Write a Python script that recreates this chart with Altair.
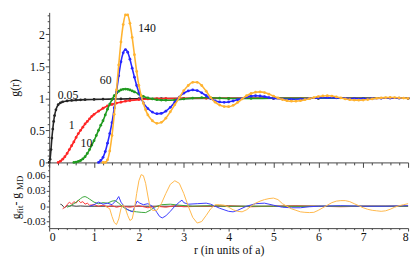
import altair as alt
import pandas as pd

# ---------------- data ----------------
series = ["0.05", "1", "10", "60", "140"]
colors = ["#262626", "#ff2626", "#1f9a1f", "#2626ff", "#ffb330"]
res_colors = ["#333333", "#ff3a3a", "#3aa63a", "#3a3aff", "#ffb84a"]


def grid(a, n, step):
    return [round(a + step * i, 3) for i in range(n)]


# g(r) curves
r_005 = [0.0, 0.02, 0.04, 0.06, 0.08, 0.10, 0.12, 0.15, 0.2, 0.25, 0.3, 0.4, 0.5, 0.6, 0.7,
         0.8, 1.0, 1.2, 1.4, 1.6, 1.8, 2.0, 2.5, 3.0, 4.0, 5.0, 6.0, 7.0, 8.0]
g_005 = [0.0, 0.05, 0.2, 0.38, 0.52, 0.64, 0.73, 0.82, 0.9, 0.93, 0.945, 0.96, 0.967, 0.972, 0.976,
         0.979, 0.983, 0.986, 0.988, 0.99, 0.992, 0.994, 0.996, 0.998, 1.0, 1.0, 1.0, 1.0, 1.0]

r_1 = grid(0.2, 17, 0.05) + [1.1, 1.2, 1.3, 1.4, 1.5, 1.6, 1.7, 1.8, 2.0, 2.2, 2.4, 2.6, 3.0,
                              3.5, 4.0, 5.0, 6.0, 7.0, 8.0]
g_1 = [0.0, 0.02, 0.05, 0.09, 0.14, 0.2, 0.26, 0.32, 0.39, 0.45, 0.5, 0.55, 0.6, 0.64, 0.68,
       0.72, 0.75, 0.8, 0.845, 0.88, 0.905, 0.925, 0.94, 0.955, 0.965, 0.98, 0.99, 0.995, 0.998,
       1.0, 1.0, 1.0, 1.0, 1.0, 1.0, 1.0]

r_10 = grid(0.55, 28, 0.05) + [2.0, 2.1, 2.2, 2.3, 2.4, 2.5, 2.6, 2.8, 3.0, 3.2, 3.4, 3.6,
                                3.8, 4.0, 4.5, 5.0, 6.0, 7.0, 8.0]
g_10 = [0.0, 0.005, 0.015, 0.03, 0.055, 0.09, 0.14, 0.2, 0.27, 0.34, 0.42, 0.5, 0.58, 0.65,
        0.74, 0.83, 0.91, 0.98, 1.04, 1.08, 1.11, 1.13, 1.14, 1.145, 1.14, 1.13, 1.115, 1.1,
        1.065, 1.03, 1.005, 0.99, 0.978, 0.972, 0.97, 0.975, 0.99, 1.003, 1.01, 1.008, 1.002,
        0.998, 0.998, 1.0, 1.0, 1.0, 1.0]

r_60 = grid(1.1, 21, 0.05) + grid(2.2, 29, 0.1) + grid(5.2, 15, 0.2)
g_60 = [0.0, 0.03, 0.08, 0.17, 0.3, 0.45, 0.62, 0.85, 1.1, 1.35, 1.57, 1.71, 1.76, 1.72, 1.61,
        1.47, 1.33, 1.2, 1.09, 1.0, 0.93,
        0.84, 0.785, 0.76, 0.765, 0.8, 0.86, 0.94, 1.02, 1.08, 1.115, 1.13, 1.12, 1.085, 1.04,
        0.995, 0.96, 0.943, 0.938, 0.943, 0.958, 0.978, 1.0, 1.02, 1.034, 1.04, 1.036, 1.026,
        1.012, 1.0,
        0.988, 0.984, 0.988, 0.997, 1.006, 1.01, 1.007, 1.0, 0.996, 0.995, 0.997, 1.0, 1.002,
        1.002, 1.0]

r_140 = grid(1.2, 21, 0.05) + grid(2.3, 58, 0.1)
g_140 = [0.0, 0.0, 0.04, 0.18, 0.42, 0.75, 1.13, 1.52, 1.88, 2.15, 2.3, 2.3, 2.17, 1.95, 1.68,
         1.42, 1.2, 1.04, 0.92, 0.82, 0.74,
         0.65, 0.61, 0.625, 0.69, 0.79, 0.9, 1.01, 1.12, 1.2, 1.25, 1.25, 1.2, 1.11, 1.01, 0.94,
         0.895, 0.872, 0.87, 0.89, 0.935, 0.99, 1.04, 1.075, 1.095, 1.1, 1.09, 1.065, 1.035,
         1.005, 0.98, 0.963, 0.955, 0.955, 0.963, 0.978, 0.995, 1.012, 1.027, 1.037, 1.04,
         1.035, 1.022, 1.006, 0.99, 0.979, 0.972, 0.97, 0.973, 0.981, 0.991, 1.0, 1.007, 1.011,
         1.013, 1.012, 1.008, 1.003, 0.999]

# residuals g_fit - g_MD
rr_005 = [0.25, 0.28, 0.31, 0.34, 0.37, 0.4, 0.45, 0.5, 0.6, 0.7, 0.8, 1.0, 1.5, 2.0, 3.0, 4.0,
          5.0, 6.0, 7.0, 8.0]
rv_005 = [0.004, 0.003, 0.0, -0.003, -0.001, 0.001, 0.0, 0.001, 0.0, 0.0005, 0.0, 0.0, 0.0,
          0.0, 0.0, 0.0, 0.0, 0.0, 0.0, 0.0]

rr_1 = grid(0.3, 13, 0.05) + grid(1.0, 7, 0.1) + grid(1.8, 7, 0.2) + grid(3.5, 10, 0.5)
rv_1 = [-0.005, -0.002, 0.003, 0.008, 0.004, 0.009, 0.006, 0.012, 0.007, 0.009, 0.004, 0.006,
        0.002, 0.003, 0.0, 0.002, -0.001, 0.001, -0.002, 0.0, -0.002, 0.001, -0.003, 0.0,
        -0.002, 0.001, -0.001, 0.0, 0.001, -0.001, 0.0, 0.001, 0.0, -0.001, 0.0, 0.0, 0.0]

rr_10 = [0.4, 0.5, 0.6, 0.7, 0.75, 0.8, 0.85, 0.9, 1.0, 1.1, 1.2, 1.3, 1.4, 1.47, 1.55, 1.65,
         1.75, 1.85, 1.95, 2.05, 2.15, 2.25, 2.35, 2.5, 2.7, 2.9, 3.2, 3.6, 4.0, 5.0, 6.0, 7.0,
         8.0]
rv_10 = [-0.002, 0.002, 0.008, 0.015, 0.018, 0.019, 0.017, 0.014, 0.008, 0.005, 0.007, 0.006,
         0.01, 0.011, 0.006, -0.002, -0.007, -0.01, -0.011, -0.012, -0.0125, -0.008, -0.002,
         0.003, 0.004, 0.002, 0.0, 0.001, 0.0, 0.0, 0.0, 0.0, 0.0]

rr_60 = [0.9, 1.0, 1.1, 1.2, 1.3, 1.4, 1.5, 1.55, 1.6, 1.7, 1.8, 1.86, 1.92, 1.96, 2.02, 2.1,
         2.2, 2.3, 2.4, 2.46, 2.52, 2.6, 2.7, 2.8, 2.9, 2.96, 3.0, 3.1, 3.3, 3.5, 3.6, 3.8, 4.0,
         4.1, 4.2, 4.4, 4.6, 4.8, 5.0, 5.2, 5.4, 5.6, 5.8, 6.0, 6.5, 7.0, 7.5, 8.0]
rv_60 = [0.0, 0.003, 0.008, 0.004, 0.006, 0.003, 0.012, 0.019, 0.008, -0.004, -0.009, -0.011,
         0.002, 0.01, 0.006, 0.003, 0.005, 0.0, -0.012, -0.02, -0.023, -0.019, -0.01, 0.0, 0.008,
         0.012, 0.007, 0.004, 0.005, 0.006, 0.004, -0.004, -0.01, -0.011, -0.008, 0.0, 0.005,
         0.006, 0.002, -0.002, -0.003, -0.003, -0.001, 0.0, 0.001, 0.0, 0.0, 0.001]

rr_140 = [1.25] + grid(1.35, 20, 0.05) + grid(2.4, 57, 0.1)
rv_140 = [0.0, -0.005, -0.02, -0.032, -0.036, -0.025, -0.005, 0.003, -0.005, -0.018, -0.028,
          -0.025, -0.005, 0.025, 0.05, 0.062, 0.06, 0.045, 0.02, -0.003, -0.008,
          -0.008, 0.005, 0.025, 0.043, 0.05, 0.045, 0.025, 0.0, -0.022, -0.033, -0.03, -0.018,
          -0.005, 0.003, 0.003, 0.002, -0.002, -0.007, -0.01, -0.011, -0.007, 0.0, 0.006, 0.01,
          0.013, 0.015, 0.016, 0.013, 0.005, 0.0, -0.005, -0.008, -0.011, -0.012, -0.0125,
          -0.012, -0.008, -0.003, 0.002, 0.007, 0.01, 0.011, 0.011, 0.009, 0.005, 0.001, -0.003,
          -0.006, -0.008, -0.009, -0.01, -0.009, -0.006, -0.002, 0.001, 0.003, 0.005]

# curve annotations
ann_text = ["0.05", "1", "10", "60", "140"]
ann_r = [0.42, 0.5, 0.83, 1.26, 2.18]
ann_g = [1.05, 0.58, 0.3, 1.28, 2.1]

curves = [(r_005, g_005), (r_1, g_1), (r_10, g_10), (r_60, g_60), (r_140, g_140)]
resids = [(rr_005, rv_005), (rr_1, rv_1), (rr_10, rv_10), (rr_60, rv_60), (rr_140, rv_140)]

# ---------------- chart ----------------
W = 366
H_TOP = 153
H_BOT = 67
FONT = "Liberation Serif"
AX = "#444444"

x_ticks = grid(0.0, 41, 0.2)
y_ticks_top = grid(0.0, 24, 0.1)
y_ticks_bot = grid(-0.04, 13, 0.01)

xs = alt.Scale(domain=[0, 8], nice=False, zero=False)
ys_top = alt.Scale(domain=[0, 2.34], nice=False, zero=False)
ys_bot = alt.Scale(domain=[-0.043, 0.086], nice=False, zero=False)

int_test = "abs(datum.value - round(datum.value)) < 0.001"
half_test = "abs(datum.value*2 - round(datum.value*2)) < 0.001"
tri_test = "abs(datum.value/0.03 - round(datum.value/0.03)) < 0.001"

ax_top_x = alt.Axis(values=x_ticks, labels=False, title="", grid=False,
                    tickSize={"condition": {"test": int_test, "value": 5}, "value": 2.5})
ax_top_y = alt.Axis(values=y_ticks_top, grid=False, title="g(r)", titlePadding=8,
                    labelPadding=1,
                    labelExpr=half_test + " ? format(datum.value, '~g') : ''",
                    tickSize={"condition": {"test": half_test, "value": 4}, "value": 2})
ax_bot_x = alt.Axis(values=x_ticks, grid=False, title="r  (in units of a)", titlePadding=2,
                    labelPadding=1,
                    labelExpr=int_test + " ? format(datum.value, '~g') : ''",
                    tickSize={"condition": {"test": int_test, "value": 3}, "value": 1.5})
ax_bot_y = alt.Axis(values=y_ticks_bot, grid=False, title="", labelFontSize=11,
                    labelPadding=1,
                    labelExpr=tri_test + " ? replace(format(datum.value, '~g'), '\u2212', '-') : ''",
                    tickSize={"condition": {"test": tri_test, "value": 3}, "value": 1.5})

top_layers = []
for (r, g), name, col in zip(curves, series, colors):
    d = pd.DataFrame({"r": r, "g": g})
    base = alt.Chart(d).encode(x=alt.X("r:Q", scale=xs, axis=ax_top_x),
                               y=alt.Y("g:Q", scale=ys_top, axis=ax_top_y))
    top_layers.append(base.mark_line(color=col, strokeWidth=1.6, interpolate="monotone"))
    top_layers.append(base.mark_circle(color=col, size=8, opacity=1))

ann = pd.DataFrame({"t": ann_text, "r": ann_r, "g": ann_g})
top_layers.append(
    alt.Chart(ann).mark_text(font=FONT, fontSize=12, color="#111111", align="center",
                             baseline="middle")
    .encode(x=alt.X("r:Q", scale=xs, axis=ax_top_x),
            y=alt.Y("g:Q", scale=ys_top, axis=ax_top_y), text="t:N")
)
top = alt.layer(*top_layers).properties(width=W, height=H_TOP)

bot_layers = []
for (r, v), name, col in zip(resids, series, res_colors):
    d = pd.DataFrame({"r": r, "v": v})
    bot_layers.append(
        alt.Chart(d).mark_line(color=col, strokeWidth=1)
        .encode(x=alt.X("r:Q", scale=xs, axis=ax_bot_x),
                y=alt.Y("v:Q", scale=ys_bot, axis=ax_bot_y))
    )

# y-axis title with subscripts: g_fit - g_MD
one = pd.DataFrame({"a": [0]})
pieces = [("g", 12, -30, 58), ("fit", 9, -27, 52), (" - g", 12, -30, 44), ("MD", 9, -27, 28)]
for txt, fs, px, py in pieces:
    bot_layers.append(
        alt.Chart(one).mark_text(text=txt, font=FONT, fontSize=fs, angle=270, align="left",
                                 baseline="alphabetic", color="#111111")
        .encode(x=alt.value(px), y=alt.value(py))
    )
bot = alt.layer(*bot_layers).properties(width=W, height=H_BOT)

chart = (
    alt.vconcat(top, bot, spacing=0, bounds="flush")
    .properties(padding=0)
    .configure_axis(labelFont=FONT, titleFont=FONT, labelFontSize=12, titleFontSize=12,
                    titleFontWeight="normal", domainColor=AX, tickColor=AX,
                    labelColor="#111111", titleColor="#111111")
    .configure_view(stroke="transparent")
)

chart.save("out.html", embed_options={"renderer": "svg", "actions": False})
